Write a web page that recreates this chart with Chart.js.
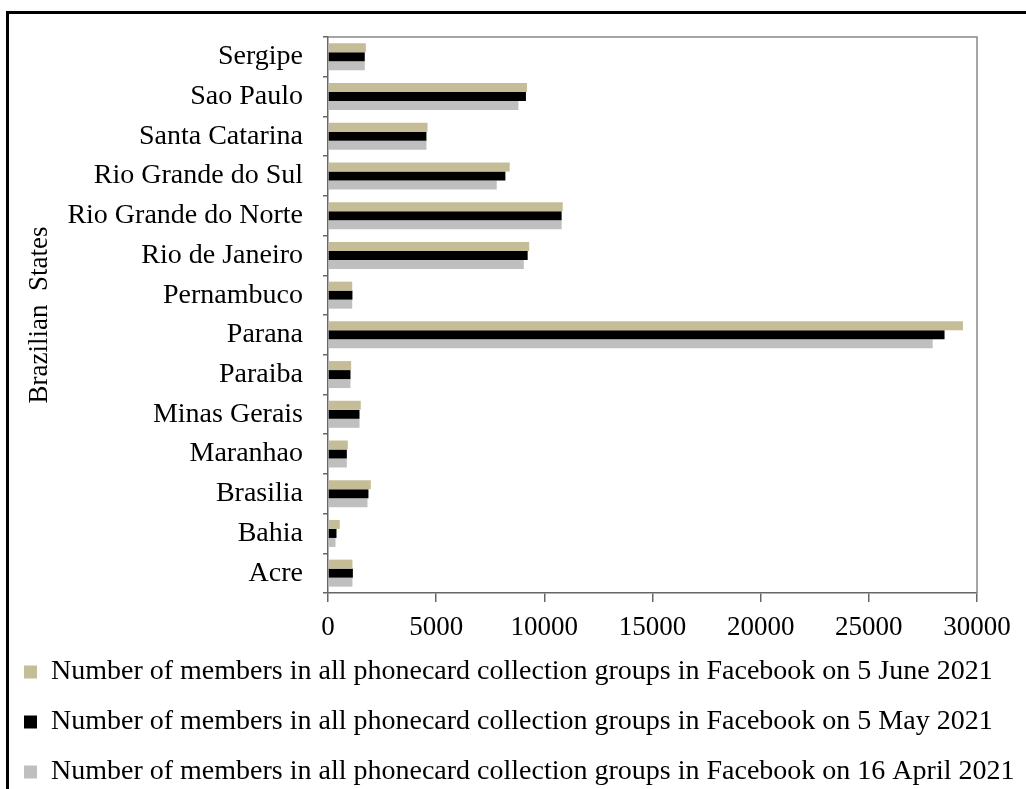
<!DOCTYPE html>
<html>
<head>
<meta charset="utf-8">
<script src="https://cdn.jsdelivr.net/npm/chart.js@4"></script>
<style>
  html, body { margin: 0; padding: 0; background: #fff; overflow: hidden; }
  #moldura {
    position: absolute; left: 6px; top: 11px;
    width: 1100px; height: 900px;
    border: 3px solid #000;
  }
  #caixa { position: absolute; left: 0; top: 0; width: 1026px; height: 789px; }
</style>
</head>
<body>
<div id="moldura"></div>
<div id="caixa"><canvas id="grafico" width="1026" height="789"></canvas></div>
<script>
// dados
const estados = ["Sergipe", "Sao Paulo", "Santa Catarina", "Rio Grande do Sul", "Rio Grande do Norte",
  "Rio de Janeiro", "Pernambuco", "Parana", "Paraiba", "Minas Gerais", "Maranhao", "Brasilia", "Bahia", "Acre"];
const junho = [1750, 9200, 4600, 8400, 10850, 9300, 1120, 29350, 1070, 1515, 915, 1980, 545, 1130];
const maio = [1700, 9150, 4550, 8200, 10800, 9230, 1130, 28500, 1040, 1456, 870, 1870, 393, 1150];
const abril = [1700, 8800, 4550, 7800, 10800, 9050, 1120, 27950, 1040, 1456, 870, 1826, 347, 1130];
const rotulos = [
  "Number of members in all phonecard collection groups in Facebook on 5 June 2021",
  "Number of members in all phonecard collection groups in Facebook on 5 May 2021",
  "Number of members in all phonecard collection groups in Facebook on 16 April 2021"
];
const cores = ["#C4BD97", "#000000", "#BFBFBF"];

const fonte = "'Liberation Serif', 'Times New Roman', serif";

// moldura cinza em cima e à direita da área do gráfico
const molduraArea = {
  id: "molduraArea",
  afterDraw(chart) {
    const { ctx, chartArea: a } = chart;
    ctx.save();
    ctx.strokeStyle = "#888";
    ctx.lineWidth = 1.5;
    ctx.beginPath();
    ctx.moveTo(a.left, a.top);
    ctx.lineTo(a.right, a.top);
    ctx.lineTo(a.right, a.bottom);
    ctx.stroke();
    ctx.restore();
  }
};

const ctx = document.getElementById("grafico").getContext("2d");
new Chart(ctx, {
  type: "bar",
  data: {
    labels: estados,
    datasets: [
      { label: rotulos[0], data: junho, backgroundColor: cores[0], borderWidth: 0 },
      { label: rotulos[1], data: maio, backgroundColor: cores[1], borderWidth: 0 },
      { label: rotulos[2], data: abril, backgroundColor: cores[2], borderWidth: 0 }
    ]
  },
  options: {
    indexAxis: "y",
    responsive: false,
    animation: false,
    categoryPercentage: 0.68,
    barPercentage: 1.0,
    layout: { padding: { top: 37, right: 0, left: 2, bottom: 0 } },
    scales: {
      x: {
        min: 0,
        max: 30000,
        // altura fixa e espaço à direita sem cortar a legenda
        afterFit: (s) => { s.height = 43; s.paddingRight = 49; },
        ticks: {
          stepSize: 5000,
          color: "#000",
          padding: 10,
          font: { family: fonte, size: 27 },
          callback: (v) => String(v)
        },
        grid: { drawOnChartArea: false, tickLength: 9, color: "#666", lineWidth: 1.5 },
        border: { color: "#666", width: 1.5 }
      },
      y: {
        afterFit: (s) => { s.width = 326; },
        ticks: { color: "#000", padding: 20, font: { family: fonte, size: 28 } },
        grid: { drawOnChartArea: false, tickLength: 5, color: "#666", lineWidth: 1.5 },
        border: { color: "#666", width: 1.5 },
        title: {
          display: true,
          text: "Brazilian  States",
          color: "#000",
          padding: { top: 22, bottom: 0 },
          font: { family: fonte, size: 27 }
        }
      }
    },
    plugins: {
      legend: {
        position: "bottom",
        align: "start",
        maxHeight: 153,
        labels: {
          color: "#000",
          boxWidth: 13,
          boxHeight: 13,
          padding: 22,
          font: { family: fonte, size: 28 }
        }
      },
      tooltip: { enabled: false }
    }
  },
  plugins: [molduraArea]
});
</script>
</body>
</html>
